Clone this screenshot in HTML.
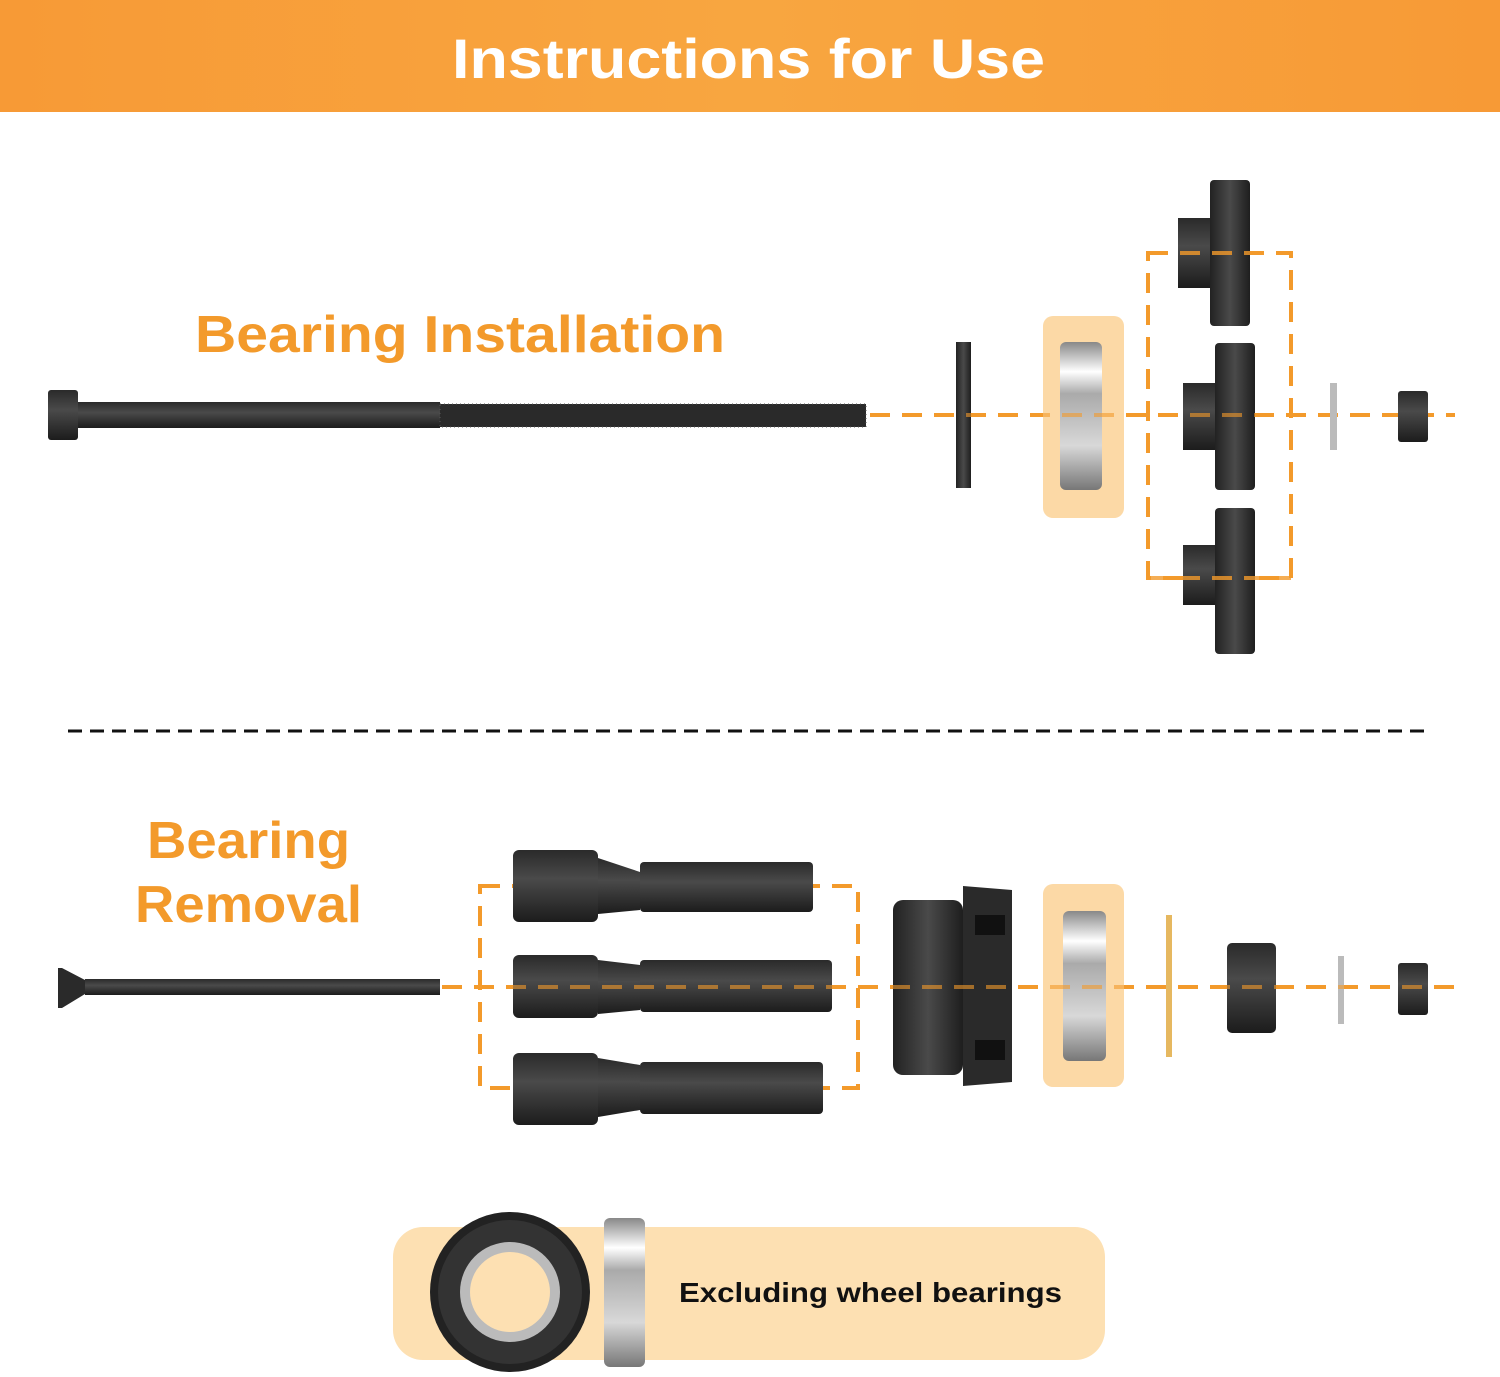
<!DOCTYPE html>
<html><head><meta charset="utf-8"><style>
html,body{margin:0;padding:0;background:#fff;}
svg{display:block;}
text{font-family:"Liberation Sans",sans-serif;font-weight:bold;}
</style></head><body>
<svg width="1500" height="1377" viewBox="0 0 1500 1377" xmlns="http://www.w3.org/2000/svg">
<defs>
<linearGradient id="hd" x1="0" y1="0" x2="1" y2="0"><stop offset="0" stop-color="#f79a36"/><stop offset="0.5" stop-color="#f8a640"/><stop offset="1" stop-color="#f79a36"/></linearGradient>
<linearGradient id="steel" x1="0" y1="0" x2="0" y2="1"><stop offset="0" stop-color="#2a2a2a"/><stop offset="0.4" stop-color="#4a4a4a"/><stop offset="1" stop-color="#1c1c1c"/></linearGradient>
<linearGradient id="steelH" x1="0" y1="0" x2="1" y2="0"><stop offset="0" stop-color="#222"/><stop offset="0.5" stop-color="#4a4a4a"/><stop offset="1" stop-color="#1e1e1e"/></linearGradient>
<linearGradient id="silver" x1="0" y1="0" x2="0" y2="1"><stop offset="0" stop-color="#888"/><stop offset="0.2" stop-color="#fff"/><stop offset="0.35" stop-color="#aaa"/><stop offset="0.7" stop-color="#d8d8d8"/><stop offset="1" stop-color="#777"/></linearGradient>
</defs>
<rect x="0" y="0" width="1500" height="112" fill="url(#hd)"/>
<text x="452" y="78" font-size="56" fill="#fff" textLength="593" lengthAdjust="spacingAndGlyphs">Instructions for Use</text>

<text x="195" y="352" font-size="52" fill="#f39a2b" textLength="530" lengthAdjust="spacingAndGlyphs">Bearing Installation</text>

<!-- bolt -->
<rect x="48" y="390" width="30" height="50" rx="3" fill="url(#steel)"/>
<rect x="78" y="402" width="362" height="26" fill="url(#steel)"/>
<rect x="440" y="404" width="426" height="23" fill="#2a2a2a"/>
<rect x="440" y="404" width="426" height="23" fill="none" stroke="#555" stroke-width="1" stroke-dasharray="1 3"/>

<line x1="870" y1="415" x2="1455" y2="415" stroke="#f39a2b" stroke-width="4" stroke-dasharray="20 12"/>
<rect x="956" y="342" width="15" height="146" fill="url(#steelH)"/>
<rect x="1043" y="316" width="81" height="202" rx="10" fill="#fcd9a6"/>
<rect x="1060" y="342" width="42" height="148" rx="6" fill="url(#silver)"/>
<rect x="1148" y="253" width="143" height="325" fill="none" stroke="#f39a2b" stroke-width="4" stroke-dasharray="20 12"/>
<rect x="1178" y="218" width="34" height="70" fill="url(#steel)"/>
<rect x="1210" y="180" width="40" height="146" rx="4" fill="url(#steelH)"/>
<rect x="1183" y="383" width="34" height="67" fill="url(#steel)"/>
<rect x="1215" y="343" width="40" height="147" rx="4" fill="url(#steelH)"/>
<rect x="1183" y="545" width="34" height="60" fill="url(#steel)"/>
<rect x="1215" y="508" width="40" height="146" rx="4" fill="url(#steelH)"/>
<line x1="1148" y1="253" x2="1291" y2="253" stroke="#f39a2b" stroke-width="4" stroke-dasharray="20 12" opacity="0.8"/>
<line x1="1148" y1="578" x2="1291" y2="578" stroke="#f39a2b" stroke-width="4" stroke-dasharray="20 12" opacity="0.8"/>
<line x1="870" y1="415" x2="1455" y2="415" stroke="#f39a2b" stroke-width="4" stroke-dasharray="20 12" opacity="0.6"/>
<rect x="1330" y="383" width="7" height="67" fill="#bbb"/>
<rect x="1398" y="391" width="30" height="51" rx="3" fill="url(#steel)"/>

<line x1="68" y1="731" x2="1432" y2="731" stroke="#111" stroke-width="3" stroke-dasharray="14 8"/>

<text x="147" y="858" font-size="52" fill="#f39a2b" textLength="203" lengthAdjust="spacingAndGlyphs">Bearing</text>
<text x="135" y="922" font-size="52" fill="#f39a2b" textLength="227" lengthAdjust="spacingAndGlyphs">Removal</text>

<polygon points="58,968 62,968 85,980 85,994 62,1008 58,1008" fill="#2a2a2a"/>
<rect x="85" y="979" width="355" height="16" fill="url(#steel)"/>
<line x1="442" y1="987" x2="1458" y2="987" stroke="#f39a2b" stroke-width="4" stroke-dasharray="20 12"/>
<rect x="480" y="886" width="378" height="202" fill="none" stroke="#f39a2b" stroke-width="4" stroke-dasharray="20 12"/>
<g fill="url(#steel)">
<rect x="513" y="850" width="85" height="72" rx="6"/><polygon points="598,858 640,872 640,910 598,914"/><rect x="640" y="862" width="173" height="50" rx="4"/>
<rect x="513" y="955" width="85" height="63" rx="6"/><polygon points="598,960 640,965 640,1010 598,1014"/><rect x="640" y="960" width="192" height="52" rx="4"/>
<rect x="513" y="1053" width="85" height="72" rx="6"/><polygon points="598,1058 640,1065 640,1110 598,1117"/><rect x="640" y="1062" width="183" height="52" rx="4"/>
</g>
<rect x="893" y="900" width="70" height="175" rx="10" fill="url(#steelH)"/>
<polygon points="963,886 1012,890 1012,1082 963,1086" fill="#2a2a2a"/>
<rect x="975" y="915" width="30" height="20" fill="#111"/><rect x="975" y="1040" width="30" height="20" fill="#111"/>
<rect x="1043" y="884" width="81" height="203" rx="10" fill="#fcd9a6"/>
<rect x="1063" y="911" width="43" height="150" rx="6" fill="url(#silver)"/>
<rect x="1166" y="915" width="6" height="142" fill="#e6b860"/>
<rect x="1227" y="943" width="49" height="90" rx="5" fill="url(#steel)"/>
<rect x="1338" y="956" width="6" height="68" fill="#bbb"/>
<rect x="1398" y="963" width="30" height="52" rx="3" fill="url(#steel)"/>
<line x1="442" y1="987" x2="1458" y2="987" stroke="#f39a2b" stroke-width="4" stroke-dasharray="20 12" opacity="0.6"/>

<rect x="393" y="1227" width="712" height="133" rx="30" fill="#fde0b2"/>
<circle cx="510" cy="1292" r="80" fill="#222"/>
<circle cx="510" cy="1292" r="72" fill="#333"/>
<circle cx="510" cy="1292" r="50" fill="#bbb"/>
<circle cx="510" cy="1292" r="40" fill="#fde0b2"/>
<rect x="604" y="1218" width="41" height="149" rx="6" fill="url(#silver)"/>
<text x="679" y="1302" font-size="28" fill="#111" textLength="383" lengthAdjust="spacingAndGlyphs">Excluding wheel bearings</text>
</svg>
</body></html>
